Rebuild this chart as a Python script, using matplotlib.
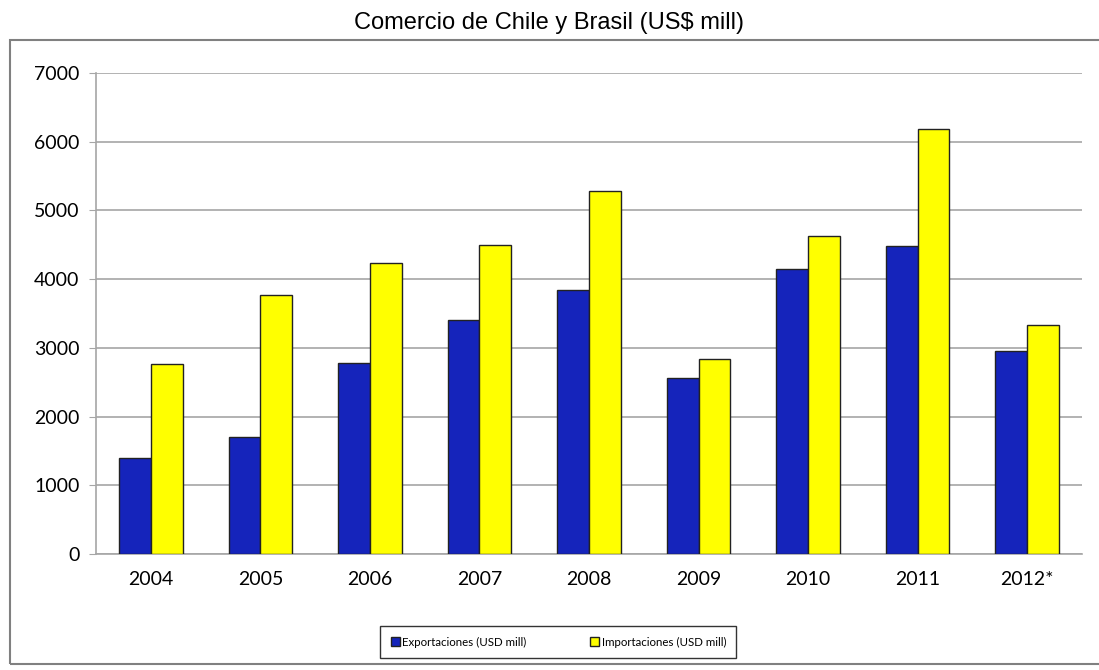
import numpy as np
import matplotlib
matplotlib.use("Agg")
import matplotlib.pyplot as plt
from matplotlib.patches import Rectangle

years = ['2004', '2005', '2006', '2007', '2008', '2009', '2010', '2011', '2012*']
exportaciones = [1400, 1700, 2780, 3410, 3840, 2560, 4150, 4480, 2955]
importaciones = [2770, 3770, 4235, 4500, 5285, 2840, 4630, 6190, 3330]

fig = plt.figure(figsize=(10.99, 6.70), dpi=100)

# outer chart frame
fig.patches.append(Rectangle((0.009, 0.009), 1.2, 0.931, transform=fig.transFigure,
                             fill=False, edgecolor='#808080', linewidth=1.5))

fig.text(0.5, 0.965, 'Comercio de Chile y Brasil (US$ mill)', ha='center', va='center',
         fontsize=17, family=['Liberation Sans', 'DejaVu Sans'])

ax = fig.add_axes([0.0874, 0.1731, 0.8971, 0.7179])
x = np.arange(len(years))
w = 0.29
ax.bar(x - w / 2, exportaciones, w, color='#1524BB', edgecolor='#222222', linewidth=1,
       label='Exportaciones (USD mill)', zorder=3)
ax.bar(x + w / 2, importaciones, w, color='#FFFF00', edgecolor='#222222', linewidth=1,
       label='Importaciones (USD mill)', zorder=3)

ax.set_xlim(-0.5, len(years) - 0.5)
ax.set_ylim(0, 7000)
ax.set_yticks(range(0, 7001, 1000))
ax.set_xticks(x)
ax.set_xticklabels(years, family='Lato')
ax.set_yticklabels([str(v) for v in range(0, 7001, 1000)], family='Lato')
ax.yaxis.grid(True, color='#A6A6A6', linewidth=1.2, zorder=0)
for s in ['top', 'right']:
    ax.spines[s].set_visible(False)
for s in ['left', 'bottom']:
    ax.spines[s].set_color('#A6A6A6')
    ax.spines[s].set_linewidth(1.2)
ax.tick_params(axis='y', length=5, color='#A6A6A6', labelsize=14, pad=7)
ax.tick_params(axis='x', length=0, labelsize=14, pad=12)

leg = ax.legend(loc='center', bbox_to_anchor=(0.469, -0.183), ncol=2,
                prop={'family': 'Lato', 'size': 8.3},
                frameon=True, fancybox=False, edgecolor='black', handlelength=0.8,
                handleheight=0.9, handletextpad=0.2, columnspacing=5.5,
                borderpad=0.9, borderaxespad=0)
leg.get_frame().set_linewidth(1)

plt.savefig('out.png', dpi=100)
